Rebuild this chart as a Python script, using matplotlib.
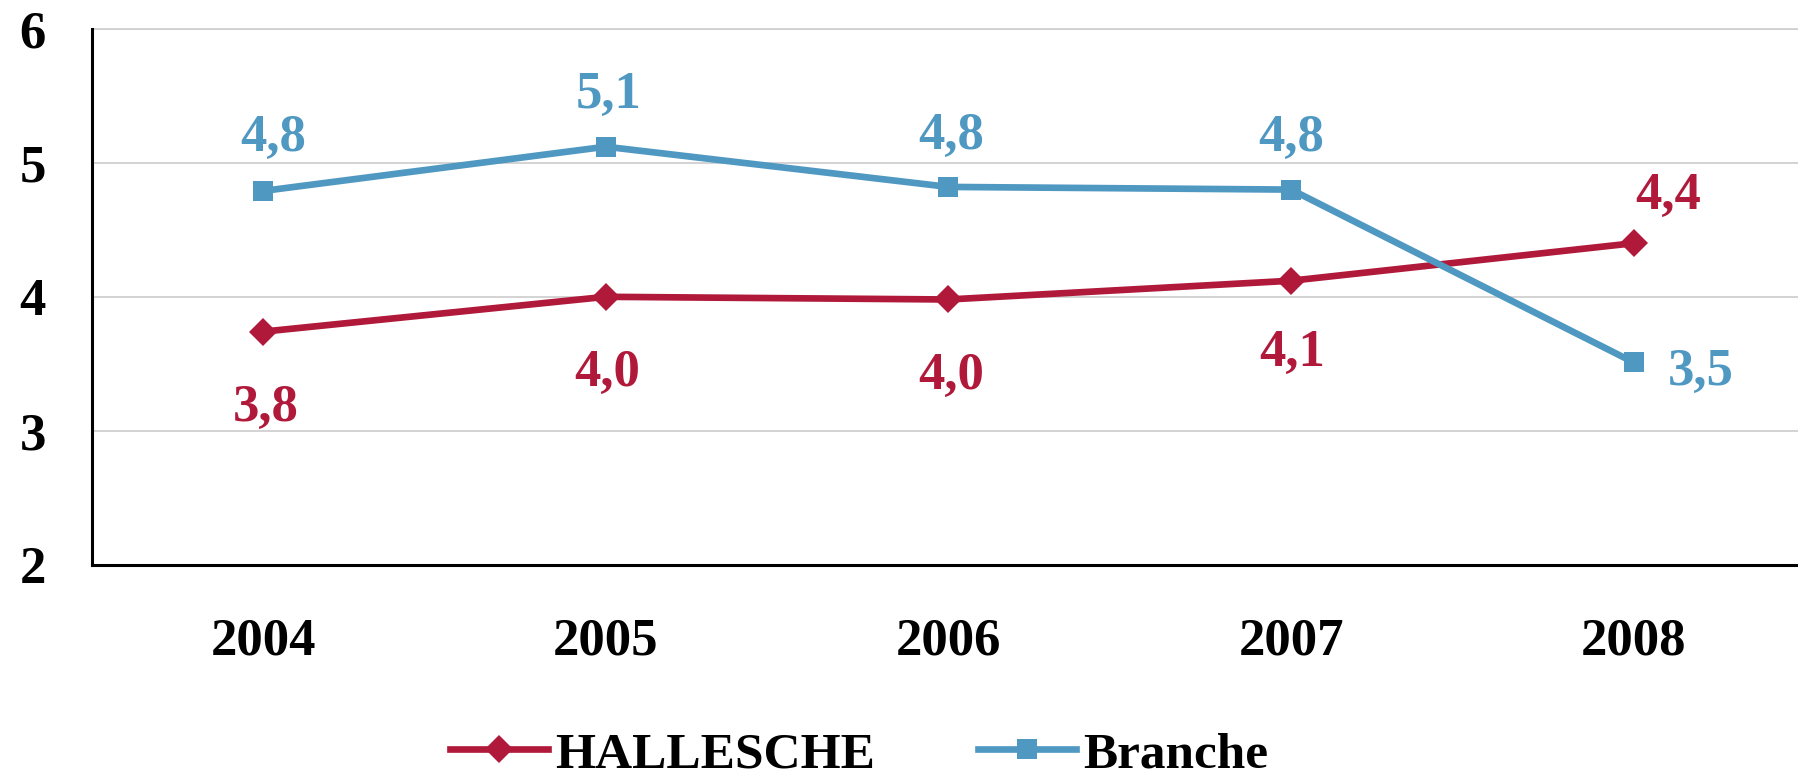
import matplotlib
matplotlib.use("Agg")
import matplotlib.pyplot as plt

years = ["2004", "2005", "2006", "2007", "2008"]
halle = [3.74, 4.00, 3.98, 4.12, 4.40]
halle_labels = ["3,8", "4,0", "4,0", "4,1", "4,4"]
branche = [4.79, 5.12, 4.82, 4.80, 3.51]
branche_labels = ["4,8", "5,1", "4,8", "4,8", "3,5"]
series_names = ["HALLESCHE", "Branche"]
yticks = [2, 3, 4, 5, 6]

RED = "#B0193A"
BLUE = "#4F98C2"

plt.rcParams['font.family'] = ['Liberation Serif', 'DejaVu Serif']
plt.rcParams['font.weight'] = 'bold'

fig = plt.figure(figsize=(17.98, 7.78), dpi=100)
ax = fig.add_axes([0.051, 0.274, 0.953, 0.689])

x = list(range(len(years)))
ax.plot(x, halle, color=RED, lw=4.8, marker='D', ms=14.5, mec=RED, mew=0,
        label=series_names[0], zorder=3)
ax.plot(x, branche, color=BLUE, lw=4.8, marker='s', ms=15, mec=BLUE, mew=0,
        label=series_names[1], zorder=3)

halle_off = [(2, -55), (1, -55), (2, -55), (1, -52), (25, 34)]
branche_off = [(7, 38), (2, 37), (2, 37), (0, 37), (48, -7)]
for i in x:
    ax.annotate(halle_labels[i], (x[i], halle[i]), xytext=halle_off[i],
                textcoords='offset points', ha='center', va='center',
                color=RED, fontsize=38, fontweight='bold')
    ax.annotate(branche_labels[i], (x[i], branche[i]), xytext=branche_off[i],
                textcoords='offset points', ha='center', va='center',
                color=BLUE, fontsize=38, fontweight='bold')

ax.set_xlim(-0.5, 4.5)
ax.set_ylim(2, 6)
ax.set_yticks(yticks)
ax.set_yticklabels([str(t) for t in yticks])
ax.set_xticks(x)
ax.set_xticklabels(years)
ax.tick_params(axis='both', length=0, labelsize=38)
ax.tick_params(axis='y', pad=33)
ax.tick_params(axis='x', pad=38)
for lab in ax.get_xticklabels() + ax.get_yticklabels():
    lab.set_fontweight('bold')

ax.grid(axis='y', color='#D0D0D0', lw=1.3, zorder=0)
ax.set_axisbelow(True)
ax.spines['top'].set_visible(False)
ax.spines['right'].set_visible(False)
ax.spines['left'].set_linewidth(2.2)
ax.spines['bottom'].set_linewidth(2.2)
ax.axhline(6, color='#D0D0D0', lw=1.3, zorder=0, clip_on=False)

fig.legend(loc='center', bbox_to_anchor=(0.478, 0.03), ncol=2, frameon=False,
           prop={'family': 'Liberation Serif', 'weight': 'bold', 'size': 37},
           handlelength=1.9, handletextpad=0.15, columnspacing=2.0)

fig.savefig("out.png", dpi=100)
